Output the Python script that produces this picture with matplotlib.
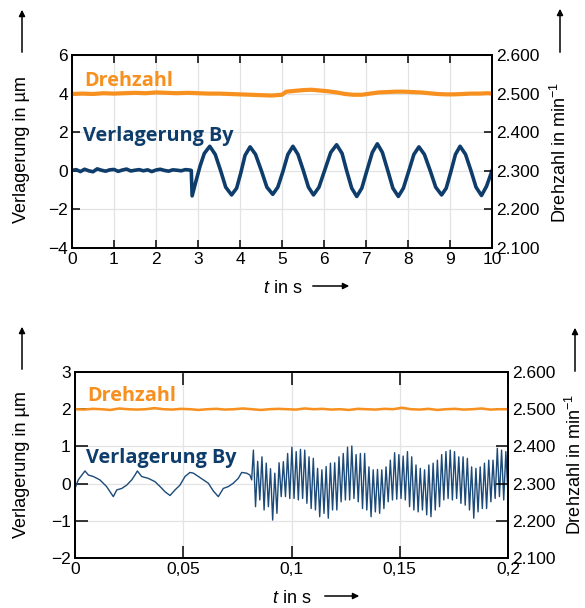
import numpy as np
import matplotlib
matplotlib.use('Agg')
import matplotlib.pyplot as plt
import matplotlib.patches as mpatches
from matplotlib.ticker import FuncFormatter

plt.rcParams['font.family'] = ['Liberation Sans', 'DejaVu Sans']
plt.rcParams['mathtext.fontset'] = 'custom'
plt.rcParams['mathtext.rm'] = 'Liberation Sans'
plt.rcParams['mathtext.it'] = 'Liberation Sans:italic'

ORANGE = '#f7901e'
BLUE = '#0f3d6b'

# ---- top panel: 0..10 s ----
t_by_top = [0.0, 0.1, 0.2, 0.3, 0.4, 0.5, 0.6, 0.7, 0.8, 0.9,
            1.0, 1.1, 1.2, 1.3, 1.4, 1.5, 1.6, 1.7, 1.8, 1.9,
            2.0, 2.1, 2.2, 2.3, 2.4, 2.5, 2.6, 2.7, 2.8, 2.84, 2.86,
            2.95, 3.05, 3.15, 3.28, 3.41, 3.54, 3.66, 3.80, 3.92, 4.02,
            4.12, 4.24, 4.37, 4.51, 4.64, 4.78, 4.90, 5.02, 5.14, 5.26,
            5.38, 5.51, 5.63, 5.75, 5.88, 6.02, 6.16, 6.30, 6.43, 6.54,
            6.66, 6.78, 6.90, 7.02, 7.15, 7.27, 7.39, 7.52, 7.64, 7.77,
            7.89, 8.02, 8.14, 8.26, 8.39, 8.53, 8.66, 8.80, 8.91, 9.02,
            9.13, 9.24, 9.37, 9.50, 9.62, 9.75, 9.87, 10.0]
by_top = [0.02, 0.06, -0.04, 0.08, 0.0, -0.05, 0.10, 0.03, -0.02, 0.05,
          0.07, -0.03, 0.04, 0.09, -0.01, 0.03, 0.06, 0.0, 0.05, -0.04,
          0.04, 0.08, 0.02, -0.02, 0.05, 0.03, 0.0, 0.06, 0.04, 0.02, -1.3,
          -0.55, 0.25, 0.9, 1.27, 0.85, 0.0, -0.85, -1.25, -0.9, -0.1,
          0.8, 1.24, 0.85, 0.0, -0.85, -1.22, -0.85, -0.05, 0.85, 1.27,
          0.85, 0.0, -0.85, -1.25, -0.85, 0.05, 0.95, 1.35, 0.9, 0.0,
          -0.9, -1.33, -0.9, 0.0, 0.95, 1.4, 0.95, 0.0, -0.9, -1.33,
          -0.9, 0.0, 0.85, 1.24, 0.85, 0.0, -0.85, -1.25, -0.9, -0.05,
          0.85, 1.27, 0.85, 0.0, -0.85, -1.28, -0.8, 0.0]

t_n_top = [0.0, 0.25, 0.5, 0.75, 1.0, 1.25, 1.5, 1.75, 2.0, 2.25,
           2.5, 2.75, 3.0, 3.25, 3.5, 3.75, 4.0, 4.25, 4.5, 4.75, 5.0,
           5.1, 5.3, 5.5, 5.7, 5.9, 6.1, 6.3, 6.5, 6.7, 6.9, 7.1, 7.3,
           7.5, 7.7, 7.9, 8.1, 8.3, 8.5, 8.7, 8.9, 9.1, 9.3, 9.5, 9.7,
           9.9, 10.0]
n_top = [2499, 2500, 2499, 2501, 2500, 2501, 2502, 2501, 2503, 2502,
         2501, 2502, 2501, 2500, 2500, 2499, 2498, 2497, 2496, 2495, 2497,
         2505, 2507, 2509, 2510, 2508, 2506, 2503, 2499, 2497, 2497, 2500, 2503,
         2504, 2505, 2505, 2504, 2503, 2501, 2499, 2498, 2498, 2499, 2500, 2500,
         2501, 2500]

# ---- bottom panel: 0..0.2 s ----
t_by_lf = [0.0, 0.0015, 0.0046, 0.0062, 0.0085, 0.0115, 0.0146, 0.0162,
           0.0177, 0.0193, 0.0216, 0.0239, 0.0262, 0.0277, 0.0288, 0.0308,
           0.0339, 0.0370, 0.0393, 0.0416, 0.0439, 0.0462, 0.0485, 0.0508,
           0.0531, 0.0547, 0.0570, 0.0593, 0.0616, 0.0639, 0.0662, 0.0685,
           0.0708, 0.0731, 0.0754, 0.0770, 0.0793, 0.0808, 0.0816]
by_lf = [-0.13, 0.10, 0.34, 0.23, 0.19, 0.10, -0.08, -0.22,
         -0.35, -0.17, -0.13, -0.04, 0.10, 0.23, 0.34, 0.19,
         0.14, 0.05, -0.08, -0.22, -0.32, -0.17, -0.04, 0.19,
         0.30, 0.28, 0.19, 0.10, 0.01, -0.20, -0.35, -0.13,
         -0.08, 0.01, 0.14, 0.30, 0.28, 0.23, 0.10]

# extrema of the fast oscillation after 0.0824 s, alternating peak / trough
by_hf_peaks = [0.90, 0.60, 0.72, 0.55, 0.40, 0.28, 0.56, 0.59, 0.81, 0.98,
               0.86, 0.92, 0.90, 0.72, 0.68, 0.41, 0.37, 0.46, 0.55,
               0.56, 0.72, 0.81, 0.98, 1.01, 0.78, 0.81, 0.81, 0.45, 0.37,
               0.38, 0.37, 0.45, 0.63, 0.83, 0.78, 0.74, 0.86, 0.72, 0.50, 0.41,
               0.37, 0.50, 0.55, 0.63, 0.78, 0.86, 0.90, 0.86, 0.72, 0.72,
               0.68, 0.45, 0.41, 0.45, 0.55, 0.63, 0.63, 0.95, 0.90, 0.86]
by_hf_troughs = [-0.62, -0.44, -0.71, -0.62, -0.98, -0.80, -0.35, -0.35, -0.40,
                 -0.40, -0.44, -0.40, -0.53, -0.67, -0.71, -0.89, -0.80, -0.93,
                 -0.71, -0.71, -0.49, -0.44, -0.44, -0.40, -0.49, -0.67, -0.71,
                 -0.89, -0.76, -0.80, -0.67, -0.49, -0.44, -0.42, -0.40, -0.44,
                 -0.62, -0.71, -0.76,
                 -0.71, -0.84, -0.89, -0.71, -0.62, -0.44, -0.40, -0.44, -0.40,
                 -0.53, -0.58, -0.71, -0.93, -0.76, -0.67, -0.67, -0.49, -0.40,
                 -0.35, -0.44, -0.30]
hf_start, hf_end = 0.0824, 0.2

n_bot = [2500, 2499, 2501, 2500, 2498, 2502, 2500, 2499, 2500, 2503,
         2500, 2499, 2501, 2500, 2498, 2500, 2501, 2499, 2500, 2502,
         2500, 2498, 2500, 2501, 2500, 2499, 2502, 2500, 2501, 2499,
         2500, 2498, 2501, 2500, 2499, 2501, 2500, 2504, 2500, 2499,
         2501, 2498, 2500, 2501, 2499, 2500, 2502, 2499, 2500, 2500]

W, H = 585, 608
fig = plt.figure(figsize=(W / 100, H / 100), dpi=100)


def fx(x):
    return x / W


def fy(y):
    return 1 - y / H


def style_axes(ax1, ax2, ticklen):
    for sp in list(ax1.spines.values()) + list(ax2.spines.values()):
        sp.set_linewidth(1.3)
    ax1.grid(True, color='#e3e3e3', linewidth=0.9)
    ax1.set_axisbelow(True)
    ax1.tick_params(axis='x', direction='in', top=True, bottom=True, length=ticklen,
                    width=1.1, labelsize=12.5, pad=3)
    ax1.tick_params(axis='y', direction='in', left=True, right=False, length=ticklen,
                    width=1.1, labelsize=12.5, pad=3)
    ax2.tick_params(axis='y', direction='in', length=ticklen, width=1.1,
                    labelsize=12.5, pad=3)
    ax2.yaxis.set_major_formatter(FuncFormatter(lambda v, p: f'{v:,.0f}'.replace(',', '.')))


def arrow(x0, y0, x1, y1):
    fig.add_artist(mpatches.FancyArrowPatch((fx(x0), fy(y0)), (fx(x1), fy(y1)),
                                            transform=fig.transFigure, arrowstyle='-|>',
                                            mutation_scale=9, lw=1.1, color='black'))


# top axes
ax1 = fig.add_axes([fx(72), fy(248), fx(492 - 72), (248 - 55) / H])
ax2 = ax1.twinx()
ax1.plot(t_by_top, by_top, color=BLUE, lw=2.6, zorder=3, solid_joinstyle='round')
ax2.plot(t_n_top, n_top, color=ORANGE, lw=3.0)
ax1.set_xlim(0, 10)
ax1.set_ylim(-4, 6)
ax1.set_xticks(range(0, 11))
ax1.set_yticks([-4, -2, 0, 2, 4, 6])
ax2.set_ylim(2100, 2600)
ax2.set_yticks([2100, 2200, 2300, 2400, 2500, 2600])
style_axes(ax1, ax2, 6)

# bottom axes
ax3 = fig.add_axes([fx(75), fy(558), fx(508 - 75), (558 - 372) / H])
ax4 = ax3.twinx()
t_hf = np.linspace(hf_start, hf_end, len(by_hf_peaks) + len(by_hf_troughs))
by_hf = [v for pair in zip(by_hf_peaks, by_hf_troughs) for v in pair]
ax3.plot(list(t_by_lf) + list(t_hf), list(by_lf) + by_hf, color='#1c4a78', lw=1.0, zorder=3)
ax4.plot(np.linspace(0, 0.2, len(n_bot)), n_bot, color=ORANGE, lw=1.8)
ax3.set_xlim(0, 0.2)
ax3.set_ylim(-2, 3)
ax3.set_xticks([0, 0.05, 0.1, 0.15, 0.2])
ax3.set_yticks([-2, -1, 0, 1, 2, 3])
ax4.set_ylim(2100, 2600)
ax4.set_yticks([2100, 2200, 2300, 2400, 2500, 2600])
style_axes(ax3, ax4, 9)
ax3.xaxis.set_major_formatter(FuncFormatter(lambda v, p: f'{v:g}'.replace('.', ',')))

# series labels
lab = dict(fontsize=14.3, fontweight='bold', family='Open Sans', va='baseline')
fig.text(fx(84), fy(86), 'Drehzahl', color=ORANGE, **lab)
fig.text(fx(83), fy(141), 'Verlagerung By', color=BLUE, **lab)
fig.text(fx(87), fy(401), 'Drehzahl', color=ORANGE, **lab)
fig.text(fx(86), fy(463), 'Verlagerung By', color=BLUE, **lab)

# axis labels with arrows
for (xc, yc, ya0, ya1) in [(22, 150, 55, 7), (22, 465, 372, 324)]:
    fig.text(fx(xc), fy(yc), 'Verlagerung in µm', rotation=90, fontsize=13,
             ha='center', va='center')
    arrow(xc, ya0, xc, ya1)
for (xc, yc, ya0, ya1) in [(560, 153, 55, 6), (575, 465, 374, 325)]:
    fig.text(fx(xc), fy(yc), 'Drehzahl in min$^{-1}$', rotation=90, fontsize=13,
             ha='center', va='center')
    arrow(xc, ya0, xc, ya1)
for (xl, yb, xa0, xa1) in [(263, 293, 310, 352), (272, 603, 322, 362)]:
    fig.text(fx(xl), fy(yb), '$t$ in s', fontsize=13, ha='left', va='baseline')
    arrow(xa0, yb - 7, xa1, yb - 7)

fig.savefig('out.png', dpi=100)
